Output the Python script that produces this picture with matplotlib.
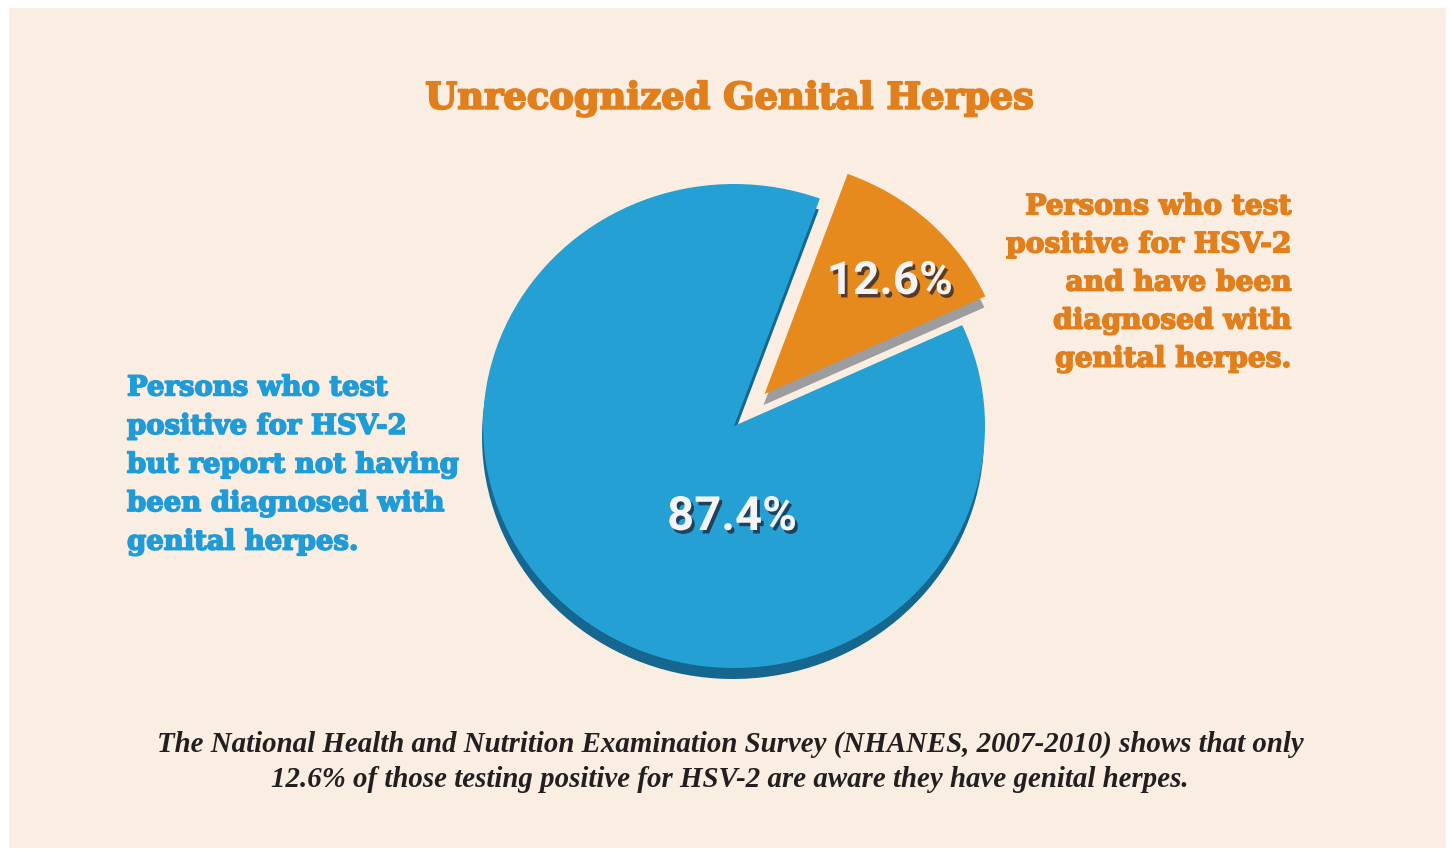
import matplotlib
matplotlib.use("Agg")
import matplotlib.pyplot as plt
import matplotlib.patheffects as pe
from matplotlib.patches import Rectangle, Wedge

# ---- data ----
categories = ["Persons who test positive for HSV-2 but report not having been diagnosed with genital herpes.",
              "Persons who test positive for HSV-2 and have been diagnosed with genital herpes."]
values = [87.4, 12.6]
title = "Unrecognized Genital Herpes"
left_label = "Persons who test\npositive for HSV-2\nbut report not having\nbeen diagnosed with\ngenital herpes."
right_label = "Persons who test\npositive for HSV-2\nand have been\ndiagnosed with\ngenital herpes."
footnote = ("The National Health and Nutrition Examination Survey (NHANES, 2007-2010) shows that only\n"
            "12.6% of those testing positive for HSV-2 are aware they have genital herpes.")

W, H = 1454, 852
BG = "#FAEDE1"
BLUE = "#24A0D4"
BLUE_DARK = "#15678F"
ORANGE = "#E68A1E"
GREY = "#9D9D9F"
TXT_ORANGE = "#E07F1C"
TXT_BLUE = "#1F9BD7"

fig = plt.figure(figsize=(W / 100, H / 100), dpi=100, facecolor="white")
fig.patches.append(Rectangle((9 / W, 4 / H), (W - 17) / W, (H - 12) / H, transform=fig.transFigure,
                             facecolor=BG, edgecolor="none", zorder=-10))

ax = fig.add_axes([0, 0, 1, 1])
ax.set_xlim(0, W)
ky = 242 / 251.0           # slight vertical squash of the pie
ax.set_ylim(0, H / ky)
def Yd(y):                 # image pixel y -> data y
    return (H - y) / ky

start = 70
cx, cy, r = 734, Yd(426), 251
explode = [0, 45]
# shadow (extrusion)
sh_wedges, _ = ax.pie(values, colors=[BLUE_DARK, GREY], startangle=start, counterclock=True,
                      explode=explode, center=(cx - 1, cy - 11 / ky), radius=r,
                      wedgeprops=dict(linewidth=0, antialiased=True))
sh_wedges[1].set_radius(r - 8)
# face
wedges, _ = ax.pie(values, colors=[BLUE, ORANGE], startangle=start, counterclock=True,
                   explode=explode, center=(cx, cy), radius=r,
                   wedgeprops=dict(linewidth=0))
wedges[1].set_radius(r - 8)
ax.set_xlim(0, W)
ax.set_ylim(0, H / ky)
ax.set_aspect("auto")
ax.axis("off")

# keep the blue extrusion only below the pie's horizontal diameter (out of the gap)
clip = Rectangle((0, 0), W, cy + 5, transform=ax.transData)
sh_wedges[0].set_clip_path(clip)

def T(x, y, s, **kw):
    return fig.text(x / W, 1 - y / H, s, **kw)

shadow = [pe.withSimplePatchShadow(offset=(2, -2.5), shadow_rgbFace="#1a1a2a", alpha=0.7)]
T(732, 517, f"{values[0]}%", ha="center", va="center", color="#F4F4F6",
  fontsize=34, fontweight="bold", family="Roboto", path_effects=shadow)
T(890, 281, f"{values[1]}%", ha="center", va="center", color="#F4F4F6",
  fontsize=33, fontweight="bold", family="Roboto", path_effects=shadow)

T(729, 99, title, ha="center", va="center", color=TXT_ORANGE,
  fontsize=26.5, fontweight="bold", family="DejaVu Serif",
  path_effects=[pe.withStroke(linewidth=1.4, foreground=TXT_ORANGE)])
T(127, 465, left_label, ha="left", va="center", color=TXT_BLUE,
  fontsize=19.8, fontweight="bold", family="DejaVu Serif", linespacing=1.55,
  path_effects=[pe.withStroke(linewidth=1.2, foreground=TXT_BLUE)])
T(1291, 283, right_label, ha="right", va="center", color=TXT_ORANGE,
  fontsize=20.2, fontweight="bold", family="DejaVu Serif", linespacing=1.53,
  path_effects=[pe.withStroke(linewidth=1.2, foreground=TXT_ORANGE)])
T(730, 762, footnote, ha="center", va="center", color="#231F20",
  fontsize=20.8, fontweight="bold", fontstyle="italic", family="Liberation Serif",
  linespacing=1.37)

fig.savefig("out.png", dpi=100, facecolor="white")
